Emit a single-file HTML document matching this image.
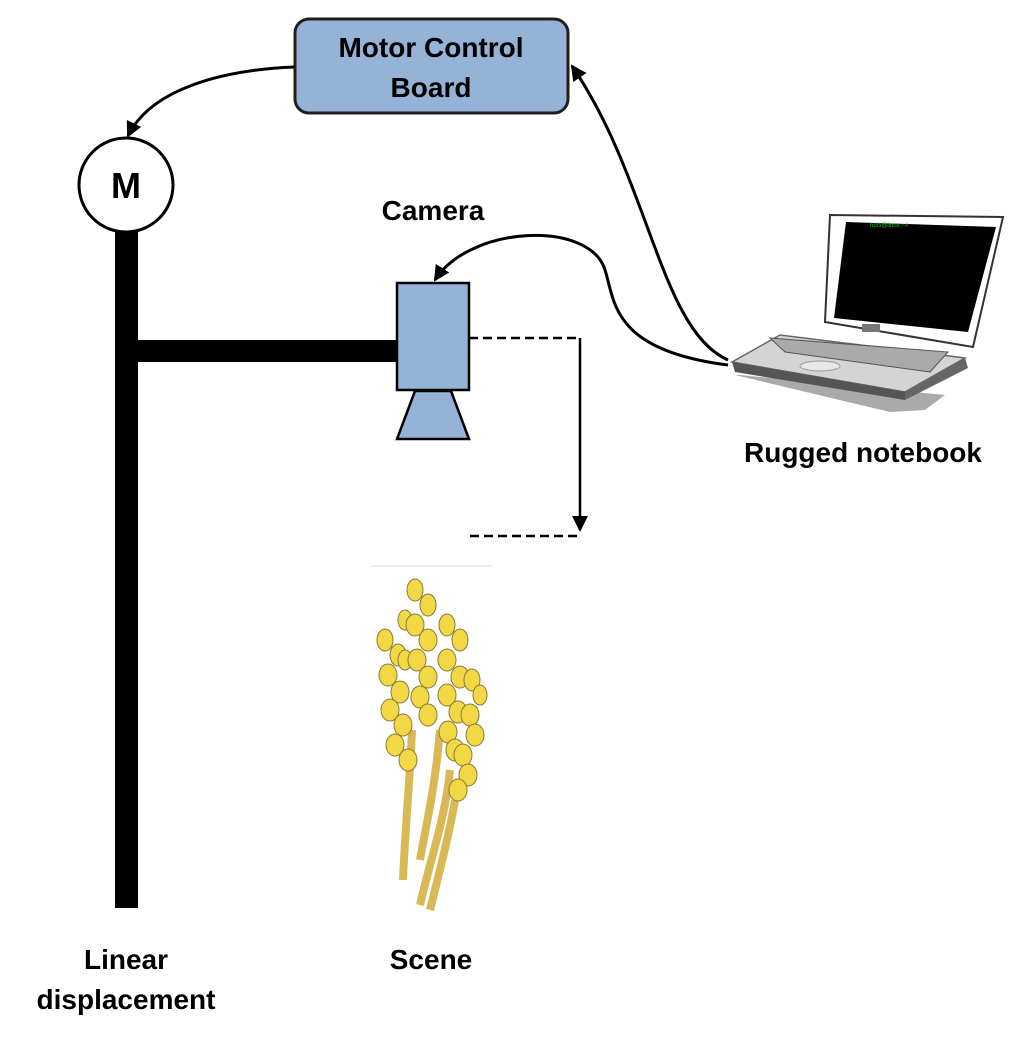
<!DOCTYPE html>
<html><head><style>html,body{margin:0;padding:0;background:#fff}</style></head><body>
<svg width="1024" height="1033" viewBox="0 0 1024 1033" xmlns="http://www.w3.org/2000/svg" font-family="Liberation Sans, sans-serif" font-weight="bold">
<defs><marker id="b" markerWidth="16" markerHeight="16" refX="14" refY="8" orient="auto" markerUnits="userSpaceOnUse"><path d="M0,0 L16,8 L0,16 Z" fill="#000"/></marker></defs>
<rect x="295" y="19" width="273" height="94" rx="14" fill="#95b3d7" stroke="#1f1f1f" stroke-width="3"/>
<text x="431" y="57" font-size="28" text-anchor="middle">Motor Control</text>
<text x="431" y="97" font-size="28" text-anchor="middle">Board</text>
<path d="M294,67 C220,70 150,90 128,136" fill="none" stroke="#000" stroke-width="3" marker-end="url(#b)"/>
<circle cx="126" cy="185" r="47" fill="#fff" stroke="#000" stroke-width="3"/>
<text x="126" y="198" font-size="36" text-anchor="middle">M</text>
<rect x="115" y="231" width="23" height="677" fill="#000"/>
<rect x="138" y="340" width="260" height="22" fill="#000"/>
<text x="433" y="220" font-size="28" text-anchor="middle">Camera</text>
<rect x="397" y="283" width="72" height="107" fill="#95b3d7" stroke="#000" stroke-width="2.5"/>
<polygon points="415,391 451,391 469,439 397,439" fill="#95b3d7" stroke="#000" stroke-width="2.5"/>
<path d="M469,338 H580" stroke="#000" stroke-width="2.5" stroke-dasharray="9,5"/>
<path d="M470,536 H580" stroke="#000" stroke-width="2.5" stroke-dasharray="9,5"/>
<path d="M580,338 V530" stroke="#000" stroke-width="2.5" marker-end="url(#b)"/>
<path d="M728,360 C660,330 650,180 572,66" fill="none" stroke="#000" stroke-width="3" marker-end="url(#b)"/>
<path d="M728,365 C610,350 615,300 605,270 C590,220 470,225 435,280" fill="none" stroke="#000" stroke-width="3" marker-end="url(#b)"/>
<!-- laptop -->
<polygon points="740,375 945,395 925,410 890,412 735,375" fill="#aaa"/>
<polygon points="732,362 905,392 965,358 780,335" fill="#d4d4d4" stroke="#666" stroke-width="1.5"/>
<polygon points="732,362 905,392 905,400 735,372" fill="#555"/>
<polygon points="905,392 965,358 968,368 905,400" fill="#666"/>
<polygon points="770,338 948,352 930,372 785,352" fill="#aaa" stroke="#555"/>
<ellipse cx="820" cy="366" rx="20" ry="5" fill="#e8e8e8" stroke="#999"/>
<polygon points="830,215 1003,217 973,347 825,322" fill="#fff" stroke="#333" stroke-width="2"/>
<polygon points="846,222 996,227 968,332 834,318" fill="#000"/>
<text x="870" y="227" font-size="6" fill="#0c0" font-weight="normal">hofs@linux:~#</text>
<rect x="862" y="324" width="18" height="8" fill="#777"/>
<!-- wheat -->
<line x1="370" y1="566" x2="492" y2="566" stroke="#ddd"/>
<g fill="#f0d64a" stroke="#a08a30" stroke-width="1">
<path d="M412,730 C410,780 405,830 403,880" stroke="#d9b955" stroke-width="8" fill="none"/>
<path d="M440,730 C435,790 425,830 420,860" stroke="#d9b955" stroke-width="8" fill="none"/>
<path d="M450,770 C445,820 430,860 420,905" stroke="#d9b955" stroke-width="8" fill="none"/>
<path d="M455,800 C450,830 440,870 430,910" stroke="#d9b955" stroke-width="8" fill="none"/>
</g>
<g fill="#f2d845" stroke="#8a7a3a" stroke-width="1">
<ellipse cx="385" cy="640" rx="8" ry="11"/><ellipse cx="398" cy="655" rx="8" ry="11"/><ellipse cx="388" cy="675" rx="9" ry="11"/><ellipse cx="400" cy="692" rx="9" ry="11"/><ellipse cx="390" cy="710" rx="9" ry="11"/><ellipse cx="403" cy="725" rx="9" ry="11"/><ellipse cx="395" cy="745" rx="9" ry="11"/><ellipse cx="408" cy="760" rx="9" ry="11"/><ellipse cx="405" cy="660" rx="7" ry="10"/><ellipse cx="405" cy="620" rx="7" ry="10"/>
<ellipse cx="415" cy="590" rx="8" ry="11"/><ellipse cx="428" cy="605" rx="8" ry="11"/><ellipse cx="415" cy="625" rx="9" ry="11"/><ellipse cx="428" cy="640" rx="9" ry="11"/><ellipse cx="417" cy="660" rx="9" ry="11"/><ellipse cx="428" cy="677" rx="9" ry="11"/><ellipse cx="420" cy="697" rx="9" ry="11"/><ellipse cx="428" cy="715" rx="9" ry="11"/>
<ellipse cx="447" cy="625" rx="8" ry="11"/><ellipse cx="460" cy="640" rx="8" ry="11"/><ellipse cx="447" cy="660" rx="9" ry="11"/><ellipse cx="460" cy="677" rx="9" ry="11"/><ellipse cx="447" cy="695" rx="9" ry="11"/><ellipse cx="458" cy="712" rx="9" ry="11"/><ellipse cx="448" cy="732" rx="9" ry="11"/><ellipse cx="455" cy="750" rx="9" ry="11"/>
<ellipse cx="472" cy="680" rx="8" ry="11"/><ellipse cx="480" cy="695" rx="7" ry="10"/><ellipse cx="470" cy="715" rx="9" ry="11"/><ellipse cx="475" cy="735" rx="9" ry="11"/><ellipse cx="463" cy="755" rx="9" ry="11"/><ellipse cx="468" cy="775" rx="9" ry="11"/><ellipse cx="458" cy="790" rx="9" ry="11"/>
</g>
<text x="863" y="462" font-size="28" text-anchor="middle">Rugged notebook</text>
<text x="431" y="969" font-size="28" text-anchor="middle">Scene</text>
<text x="126" y="969" font-size="28" text-anchor="middle">Linear</text>
<text x="126" y="1009" font-size="28" text-anchor="middle">displacement</text>
</svg>
</body></html>
